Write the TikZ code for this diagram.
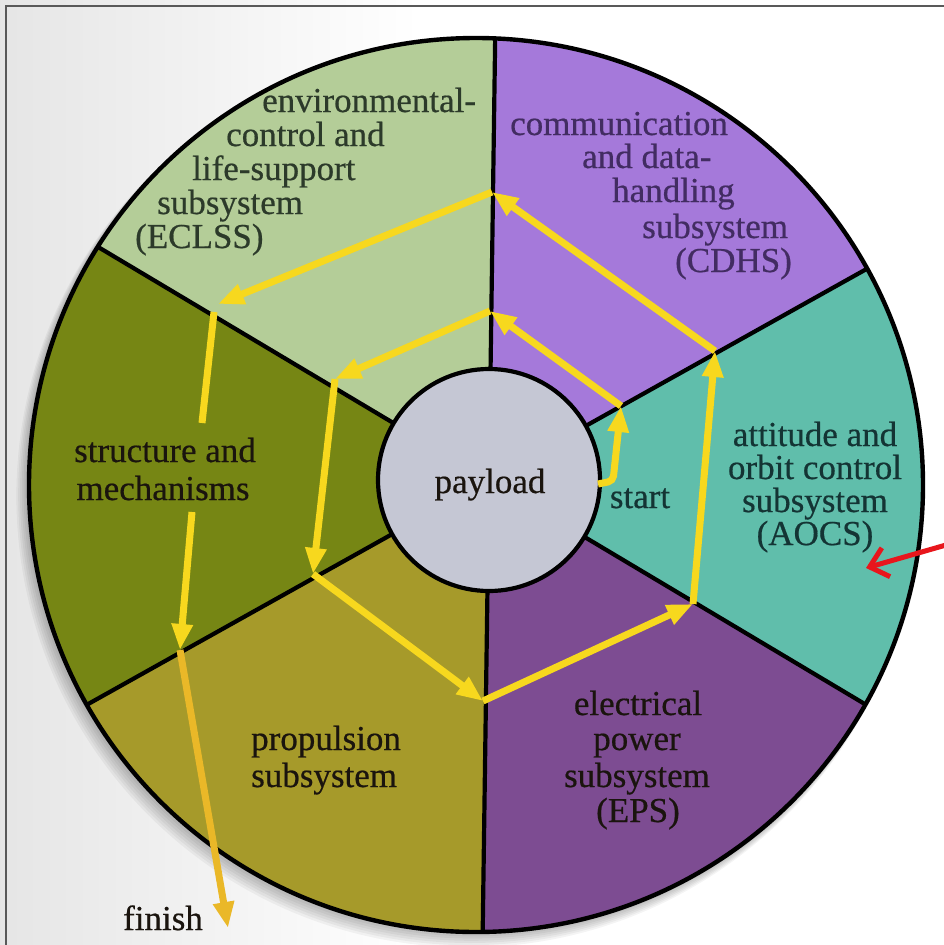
\documentclass[tikz,border=0pt]{standalone}
\usepackage{fontspec}
\setmainfont{Liberation Serif}
\newfontfamily\labelfont{Liberation Serif}[FakeBold=0.5]
\usetikzlibrary{arrows.meta}

% sector fills
\definecolor{eclsscol}{RGB}{180,205,152}
\definecolor{cdhscol}{RGB}{165,121,218}
\definecolor{aocscol}{RGB}{96,190,171}
\definecolor{epscol}{RGB}{125,76,146}
\definecolor{propcol}{RGB}{166,154,42}
\definecolor{structcol}{RGB}{118,134,20}
\definecolor{paycol}{RGB}{197,199,212}
% flow arrows
\definecolor{flowcol}{RGB}{247,216,30}
\definecolor{flowdeep}{RGB}{234,184,40}
\definecolor{redarrow}{RGB}{232,22,28}
% label inks
\definecolor{inkgreen}{RGB}{44,58,42}
\definecolor{inkpurple}{RGB}{66,44,98}
\definecolor{inkteal}{RGB}{20,52,52}
\definecolor{inkdark}{RGB}{26,20,14}

\tikzset{
  lbl/.style={inner sep=0pt, font=\labelfont\fontsize{35}{40}\selectfont},
  spoke/.style={line width=4.2pt, black},
  rim/.style={line width=4.4pt, black},
  flow/.style={draw=flowcol, line width=7pt,
    -{Triangle[length=26pt,width=20pt]}},
  flowplain/.style={draw=flowcol, line width=7pt},
  redpointer/.style={draw=redarrow, line width=5pt,
    -{Straight Barb[length=17pt,width=30pt,line width=5pt]}}
}

\begin{document}
\begin{tikzpicture}[x=1pt,y=1pt]
\useasboundingbox (0,0) rectangle (944,-945);
\clip (0,0) rectangle (944,-945);

% page background
\fill[white] (0,0) rectangle (944,-945);
\shade[left color=black!10, right color=white] (0,0) rectangle (420,-945);

% page frame
\draw[black!65, line width=2.4pt] (6,-6) rectangle (980,-980);

% soft shadow under the wheel
\foreach \k in {1,...,7}
  \fill[black, opacity=0.045] ({476-1.2*\k},{-485-1.6*\k}) circle[radius=447+0.6*\k];

% hub of the spokes and the wheel rim
\coordinate (hub) at (489,-480);
\coordinate (rimc) at (476,-485);

\begin{scope}
  \clip (rimc) circle[radius=447];
  \fill[eclsscol]  (hub) -- ++(89.2:800)  arc[start angle=89.2,  end angle=149.2, radius=800] -- cycle;
  \fill[structcol] (hub) -- ++(149.2:800) arc[start angle=149.2, end angle=209.2, radius=800] -- cycle;
  \fill[propcol]   (hub) -- ++(209.2:800) arc[start angle=209.2, end angle=269.2, radius=800] -- cycle;
  \fill[epscol]    (hub) -- ++(269.2:800) arc[start angle=269.2, end angle=329.2, radius=800] -- cycle;
  \fill[aocscol]   (hub) -- ++(-30.8:800) arc[start angle=-30.8,  end angle=29.2,  radius=800] -- cycle;
  \fill[cdhscol]   (hub) -- ++(29.2:800)  arc[start angle=29.2,  end angle=89.2,  radius=800] -- cycle;
  \foreach \a in {29.2,89.2,149.2,209.2,269.2,329.2}
    \draw[spoke] (hub) -- ++(\a:800);
\end{scope}
\draw[rim] (rimc) circle[radius=447];

% payload hub
\node[circle, draw=black, line width=4.2pt, fill=paycol, minimum size=222pt, inner sep=0pt]
  (payload) at (hub) {};
\node[lbl, text=inkdark, anchor=base] (paytext) at (490,-493) {payload};

% sector labels
\node[lbl, text=inkgreen, anchor=base west] (ec1) at (262,-112) {environmental-};
\node[lbl, text=inkgreen, anchor=base west] (ec2) at (226,-146) {control and};
\node[lbl, text=inkgreen, anchor=base west] (ec3) at (192,-180) {life-support};
\node[lbl, text=inkgreen, anchor=base west] (ec4) at (157,-214) {subsystem};
\node[lbl, text=inkgreen, anchor=base west] (ec5) at (135,-248) {(ECLSS)};

\node[lbl, text=inkpurple, anchor=base west] (cd1) at (510,-135) {communication};
\node[lbl, text=inkpurple, anchor=base west] (cd2) at (582,-168) {and data-};
\node[lbl, text=inkpurple, anchor=base west] (cd3) at (612,-202) {handling};
\node[lbl, text=inkpurple, anchor=base west] (cd4) at (642,-238) {subsystem};
\node[lbl, text=inkpurple, anchor=base west] (cd5) at (675,-272) {(CDHS)};

\node[lbl, text=inkteal, anchor=base] (ao1) at (815,-446) {attitude and};
\node[lbl, text=inkteal, anchor=base] (ao2) at (815,-479) {orbit control};
\node[lbl, text=inkteal, anchor=base] (ao3) at (815,-512) {subsystem};
\node[lbl, text=inkteal, anchor=base] (ao4) at (815,-545) {(AOCS)};

\node[lbl, text=inkdark, anchor=base] (st1) at (165,-462) {structure and};
\node[lbl, text=inkdark, anchor=base] (st2) at (163,-500) {mechanisms};

\node[lbl, text=inkdark, anchor=base west] (pr1) at (251,-750) {propulsion};
\node[lbl, text=inkdark, anchor=base west] (pr2) at (251,-787) {subsystem};

\node[lbl, text=inkdark, anchor=base] (ep1) at (638,-715) {electrical};
\node[lbl, text=inkdark, anchor=base] (ep2) at (637,-750) {power};
\node[lbl, text=inkdark, anchor=base] (ep3) at (637,-787) {subsystem};
\node[lbl, text=inkdark, anchor=base] (ep4) at (638,-822) {(EPS)};

\node[lbl, text=inkteal, anchor=base] (start) at (640,-508) {start};
\node[lbl, text=inkdark, anchor=base] (finish) at (163,-930) {finish};

% corners of the spiral route
\coordinate (v0a) at (598,-484);
\coordinate (v0b) at (613,-481);
\coordinate (v1) at (621,-406);
\coordinate (v2) at (490,-311);
\coordinate (v3) at (335,-379);
\coordinate (v4) at (313,-574);
\coordinate (v5) at (483,-701);
\coordinate (v6) at (693,-604);
\coordinate (v7) at (715,-351);
\coordinate (v8) at (492,-192);
\coordinate (v9) at (218,-304);
\coordinate (v10a) at (214,-312);
\coordinate (v10b) at (202,-423);
\coordinate (v11a) at (192,-512);
\coordinate (v11) at (180,-650);
\coordinate (v12) at (228,-928);

% the route, one leg per subsystem
\draw[flow, rounded corners=5pt] (v0a) -- (v0b) -- (v1);
\draw[flow] (v1) -- (v2);
\draw[flow] (v2) -- (v3);
\draw[flow] (v3) -- (v4);
\draw[flow] (v4) -- (v5);
\draw[flow] (v5) -- (v6);
\draw[flow] (v6) -- (v7);
\draw[flow] (v7) -- (v8);
\draw[flow] (v8) -- (v9);
\draw[flowplain] (v10a) -- (v10b);
\draw[flow] (v11a) -- (v11);
\draw[flow, draw=flowdeep] (v11) -- (v12);

% red pointer from the margin
\coordinate (redtail) at (946,-545);
\coordinate (redtip) at (866,-568);
\draw[redpointer] (redtail) -- (redtip);
\end{tikzpicture}
\end{document}
